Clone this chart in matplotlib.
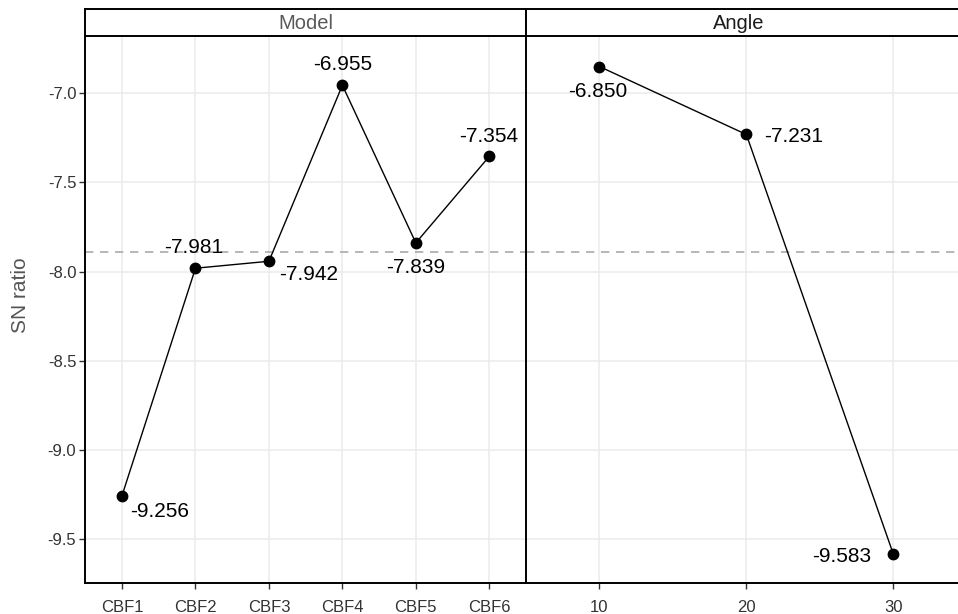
import numpy as np
import matplotlib.pyplot as plt

plt.rcParams['font.family'] = ['Liberation Sans', 'DejaVu Sans']
plt.rcParams['axes.unicode_minus'] = False

# SN ratio main effects
models = ['CBF1', 'CBF2', 'CBF3', 'CBF4', 'CBF5', 'CBF6']
model_sn = [-9.256, -7.981, -7.942, -6.955, -7.839, -7.354]
angles = [10, 20, 30]
angle_sn = [-6.850, -7.231, -9.583]
yticks = [-9.5, -9.0, -8.5, -8.0, -7.5, -7.0]

# where the value labels sit relative to their point (pixels, x right / y up)
model_off = [(38, -21), (-2, 15), (40, -19), (0, 15), (0, -30.5), (-1, 14)]
angle_off = [(-2, -30.5), (47, -7.3), (-52, -7.8)]

grand_mean = np.mean(model_sn)

W, H = 958, 614
fig = plt.figure(figsize=(W/100, H/100), dpi=100)

ax_top = 1 - 35.7/H
ax_bot = 1 - 583.3/H
pw = 440.7/W
ax1 = fig.add_axes([85.3/W, ax_bot, pw, ax_top - ax_bot])
ax2 = fig.add_axes([526/W, ax_bot, pw, ax_top - ax_bot])
s1 = fig.add_axes([85.3/W, ax_top, pw, 26.4/H])
s2 = fig.add_axes([526/W, ax_top, pw, 26.4/H])

ylim = (-9.748, -6.677)

def style(ax):
    ax.set_ylim(*ylim)
    ax.set_yticks(yticks)
    ax.grid(True, color='#EBEBEB', lw=1.1, zorder=0)
    ax.set_axisbelow(True)
    for side in ['top', 'right']:
        ax.spines[side].set_visible(False)
    for side in ['left', 'bottom']:
        ax.spines[side].set_color('black')
        ax.spines[side].set_linewidth(1.4)
    ax.tick_params(axis='both', length=4.5, width=1, color='#333333',
                   labelcolor='#333333', labelsize=12)
    ax.tick_params(axis='x', pad=7.5)
    ax.tick_params(axis='y', pad=2)
    ax.axhline(grand_mean, color='#AAAAAA', lw=1.2, dashes=(5, 4), zorder=1)

def labels(ax, xs, ys, offs):
    for x, y, (dx, dy) in zip(xs, ys, offs):
        ax.annotate(f'{y:.3f}', (x, y), xytext=(dx*0.72, dy*0.72),
                    textcoords='offset points', ha='center', va='baseline',
                    fontsize=15, color='black', zorder=5)

# Model panel
xm = np.arange(1, len(models) + 1)
style(ax1)
ax1.plot(xm, model_sn, color='black', lw=1.0, marker='o', markersize=7.5, zorder=3)
ax1.set_xlim(0.5, len(models) + 0.5)
ax1.set_xticks(xm)
ax1.set_xticklabels(models)
labels(ax1, xm, model_sn, model_off)

# Angle panel
style(ax2)
ax2.plot(angles, angle_sn, color='black', lw=1.0, marker='o', markersize=7.5, zorder=3)
ax2.set_xlim(5, 35)
ax2.set_xticks(angles)
ax2.tick_params(axis='y', left=False, labelleft=False)
labels(ax2, angles, angle_sn, angle_off)

# facet strips
for s, txt, col, xpos in [(s1, 'Model', '#595959', 0.5), (s2, 'Angle', '#1A1A1A', 0.482)]:
    s.set_xticks([])
    s.set_yticks([])
    s.set_facecolor('white')
    for sp in s.spines.values():
        sp.set_color('black')
        sp.set_linewidth(1.4)
    s.text(xpos, 0.45, txt, ha='center', va='center', fontsize=14.5, color=col,
           transform=s.transAxes)

fig.text(21/W, 1 - 295.5/H, 'SN ratio', rotation=90, ha='center', va='center',
         fontsize=15, color='#555555')

fig.savefig('out.png', dpi=100)
